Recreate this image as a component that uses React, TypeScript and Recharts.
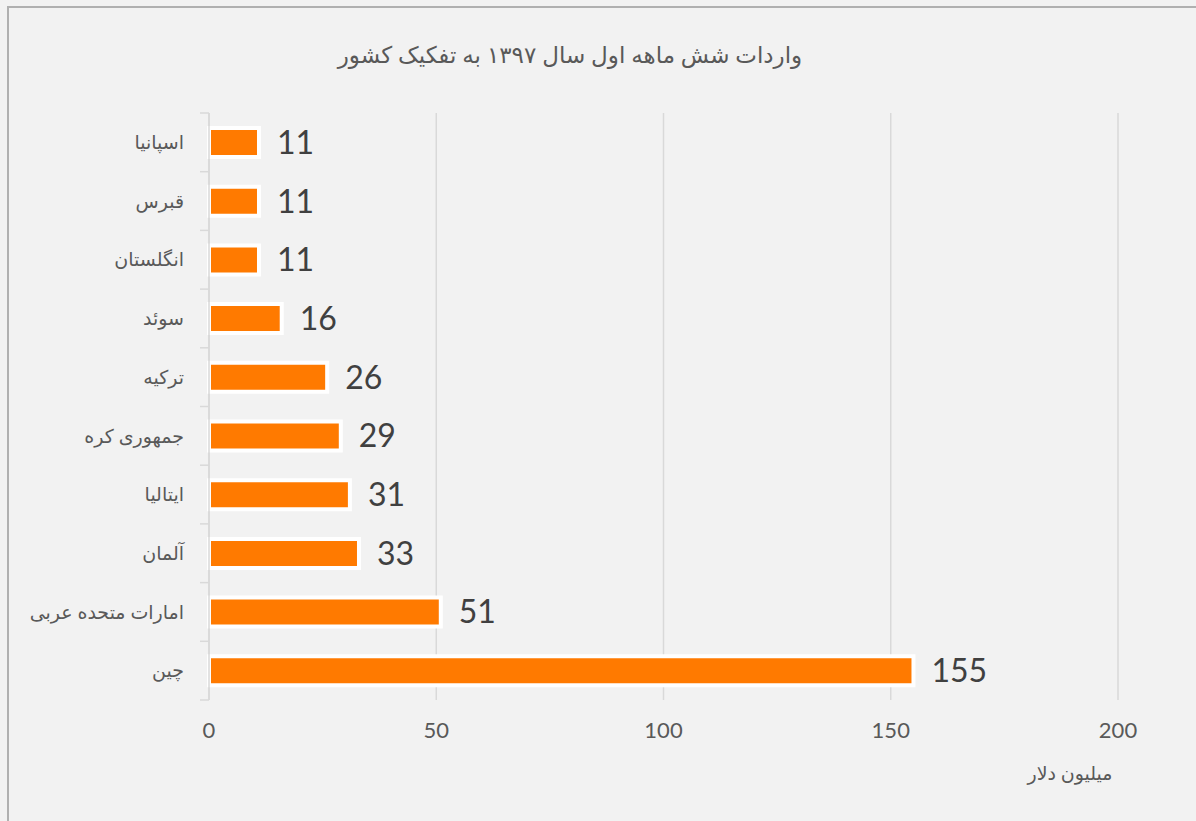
import React from "react";
import {
  BarChart,
  Bar,
  XAxis,
  YAxis,
  CartesianGrid,
  LabelList,
} from "recharts";

const countries = [
  "اسپانیا",
  "قبرس",
  "انگلستان",
  "سوئد",
  "ترکیه",
  "جمهوری کره",
  "ایتالیا",
  "آلمان",
  "امارات متحده عربی",
  "چین",
];
const imports = [11, 11, 11, 16, 26, 29, 31, 33, 51, 155];
const xTicks = [0, 50, 100, 150, 200];

const title = "واردات شش ماهه اول سال ۱۳۹۷ به تفکیک کشور";
const unitLabel = "میلیون دلار";

const data = countries.map((name, i) => ({ name, value: imports[i] }));

const W = 1196;
const H = 821;
const margin = { top: 113, right: 78, bottom: 91, left: 9 };
const yAxisWidth = 200;
const xAxisHeight = 30;
const plotLeft = margin.left + yAxisWidth;
const plotHeight = H - margin.top - margin.bottom - xAxisHeight;
const band = plotHeight / countries.length;

const grid = "#d9d9d9";
const textColor = "#595959";
const font = "Lato, 'DejaVu Sans', sans-serif";

// label at the band centre, tick marks on the band edges like Excel does
function CountryTick(props: any) {
  const { y, payload, index } = props;
  const top = y - band / 2;
  const bottom = y + band / 2;
  return (
    <g>
      <line x1={plotLeft - 9} x2={plotLeft} y1={top} y2={top} stroke={grid} strokeWidth={1.5} />
      {index === countries.length - 1 && (
        <line x1={plotLeft - 9} x2={plotLeft} y1={bottom} y2={bottom} stroke={grid} strokeWidth={1.5} />
      )}
      <text
        x={plotLeft - 25}
        y={y}
        dy="0.35em"
        textAnchor="end"
        fill={textColor}
        fontSize={19}
        fontFamily={font}
      >
        {payload.value}
      </text>
    </g>
  );
}

export default function App() {
  return (
    <div
      style={{
        position: "fixed",
        left: 0,
        top: 0,
        width: W,
        height: H,
        background: "#f2f2f2",
        overflow: "hidden",
        fontFamily: font,
      }}
    >
      <div
        style={{
          position: "absolute",
          left: 7,
          top: 6,
          width: W + 20,
          height: H + 20,
          borderLeft: "2px solid #b0b0b0",
          borderTop: "2px solid #b0b0b0",
        }}
      />
      <div
        style={{
          position: "absolute",
          left: 0,
          width: 1140,
          top: 40,
          textAlign: "center",
          direction: "rtl",
          fontSize: 23,
          color: textColor,
        }}
      >
        {title}
      </div>
      <div
        style={{
          position: "absolute",
          left: 1000,
          width: 140,
          top: 761,
          textAlign: "center",
          direction: "rtl",
          fontSize: 19,
          color: textColor,
        }}
      >
        {unitLabel}
      </div>
      <div style={{ position: "absolute", left: 0, top: 0 }}>
        <BarChart width={W} height={H} data={data} layout="vertical" margin={margin}>
          <CartesianGrid horizontal={false} stroke={grid} strokeWidth={1.5} />
          <XAxis
            type="number"
            domain={[0, 200]}
            ticks={xTicks}
            height={xAxisHeight}
            axisLine={false}
            tickLine={false}
            tickMargin={16}
            tick={{ fontSize: 22, fill: textColor, fontFamily: font }}
          />
          <YAxis
            type="category"
            dataKey="name"
            width={yAxisWidth}
            axisLine={{ stroke: grid, strokeWidth: 1.5 }}
            tickLine={false}
            tick={<CountryTick />}
          />
          <Bar
            dataKey="value"
            fill="#ff7a00"
            stroke="#ffffff"
            strokeWidth={4}
            barSize={29}
            isAnimationActive={false}
          >
            <LabelList
              dataKey="value"
              position="right"
              offset={18}
              fill="#404040"
              fontSize={32}
              fontFamily={font}
            />
          </Bar>
        </BarChart>
      </div>
    </div>
  );
}
